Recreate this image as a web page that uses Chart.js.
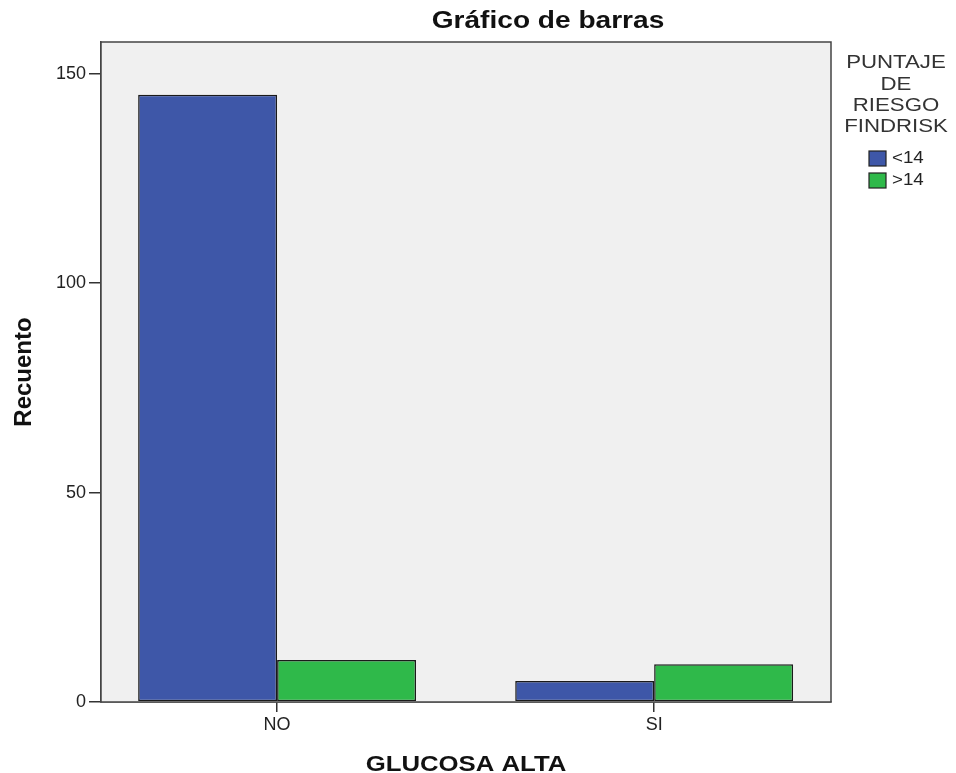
<!DOCTYPE html>
<html>
<head>
<meta charset="utf-8">
<script src="https://cdn.jsdelivr.net/npm/chart.js@4/dist/chart.umd.min.js"></script>
<style>
html,body{margin:0;padding:0;background:#fff;}
canvas{display:block;}
</style>
</head>
<body>
<canvas id="c" width="956" height="773"></canvas>
<script>
const categories = ['NO', 'SI'];
const seriesLabels = ['<14', '>14'];
const lowRisk = [145, 5];
const highRisk = [10, 9];
const yTicks = [0, 50, 100, 150];
const legendTitleLines = ['PUNTAJE', 'DE', 'RIESGO', 'FINDRISK'];
const chartTitle = 'Gráfico de barras';
const xTitle = 'GLUCOSA ALTA';
const yTitle = 'Recuento';

const seriesColors = ['#3e57a8', '#2fb94a'];
const FONT = '"Liberation Sans", Arial, sans-serif';
const STRETCH = 1.17;

function stretchedText(ctx, text, x, y, font, align, baseline, color) {
  ctx.save();
  ctx.font = font;
  ctx.fillStyle = color;
  ctx.textAlign = align;
  ctx.textBaseline = baseline;
  ctx.translate(x, y);
  ctx.scale(STRETCH, 1);
  ctx.fillText(text, 0, 0);
  ctx.restore();
}

const decor = {
  id: 'decor',
  beforeDatasetsDraw(chart) {
    const {ctx, chartArea: a} = chart;
    ctx.save();
    ctx.fillStyle = '#f0f0f0';
    ctx.fillRect(a.left, a.top, a.right - a.left, a.bottom - a.top);
    ctx.restore();
  },
  afterDraw(chart) {
    const {ctx, chartArea: a} = chart;
    ctx.save();
    ctx.strokeStyle = '#444';
    ctx.lineWidth = 1.5;
    ctx.strokeRect(a.left, a.top, a.right - a.left, a.bottom - a.top);
    ctx.restore();

    stretchedText(ctx, chartTitle, 548, 21, 'bold 24px ' + FONT, 'center', 'middle', '#111');
    stretchedText(ctx, xTitle, (a.left + a.right) / 2, 771, 'bold 22px ' + FONT, 'center', 'alphabetic', '#111');
    ctx.save();
    ctx.translate(24, (a.top + a.bottom) / 2);
    ctx.rotate(-Math.PI / 2);
    ctx.font = 'bold 24px ' + FONT;
    ctx.fillStyle = '#111';
    ctx.textAlign = 'center';
    ctx.textBaseline = 'middle';
    ctx.fillText(yTitle, 0, 0);
    ctx.restore();

    legendTitleLines.forEach((t, i) => {
      stretchedText(ctx, t, 896, 63 + i * 21.3, '19px ' + FONT, 'center', 'middle', '#333');
    });
    chart.data.datasets.forEach((ds, i) => {
      const y = 151 + i * 22;
      ctx.save();
      ctx.fillStyle = ds.backgroundColor;
      ctx.fillRect(869, y, 17, 15);
      ctx.strokeStyle = '#222';
      ctx.lineWidth = 1.2;
      ctx.strokeRect(869, y, 17, 15);
      ctx.restore();
      stretchedText(ctx, ds.label, 892, y + 8, '16px ' + FONT, 'left', 'middle', '#222');
    });
  }
};

new Chart(document.getElementById('c'), {
  type: 'bar',
  data: {
    datasets: [
      {
        label: seriesLabels[0],
        data: lowRisk.map((v, i) => ({x: i, y: v})),
        backgroundColor: seriesColors[0],
        borderColor: '#1a1a1a',
        borderWidth: 1.5,
        borderSkipped: false
      },
      {
        label: seriesLabels[1],
        data: highRisk.map((v, i) => ({x: i, y: v})),
        backgroundColor: seriesColors[1],
        borderColor: '#1a1a1a',
        borderWidth: 1.5,
        borderSkipped: false
      }
    ]
  },
  options: {
    responsive: false,
    animation: false,
    devicePixelRatio: 1,
    categoryPercentage: 0.737,
    barPercentage: 1,
    layout: {padding: {top: 42, right: 125, left: 0, bottom: 0}},
    plugins: {
      legend: {display: false},
      title: {display: false},
      tooltip: {enabled: false}
    },
    scales: {
      x: {
        type: 'linear',
        offset: false,
        min: -0.467,
        max: 1.469,
        afterBuildTicks(scale) {
          scale.ticks = categories.map((c, i) => ({value: i}));
        },
        afterFit(scale) { scale.height = 71; },
        ticks: {
          callback: (v) => categories[v],
          font: {family: FONT, size: 18},
          color: '#222',
          padding: 2,
          maxRotation: 0
        },
        grid: {
          display: true,
          offset: false,
          drawOnChartArea: false,
          drawTicks: true,
          tickLength: 10,
          color: '#333',
          lineWidth: 1.5
        },
        border: {display: true, color: '#444', width: 1.5}
      },
      y: {
        min: 0,
        max: 157.6,
        afterBuildTicks(scale) {
          scale.ticks = yTicks.map(v => ({value: v}));
        },
        afterFit(scale) { scale.width = 101; },
        ticks: {
          font: {family: FONT, size: 18},
          color: '#222',
          padding: 3
        },
        grid: {
          display: true,
          drawOnChartArea: false,
          drawTicks: true,
          tickLength: 12,
          color: '#333',
          lineWidth: 1.5
        },
        border: {display: true, color: '#444', width: 1.5}
      }
    }
  },
  plugins: [decor]
});
</script>
</body>
</html>
